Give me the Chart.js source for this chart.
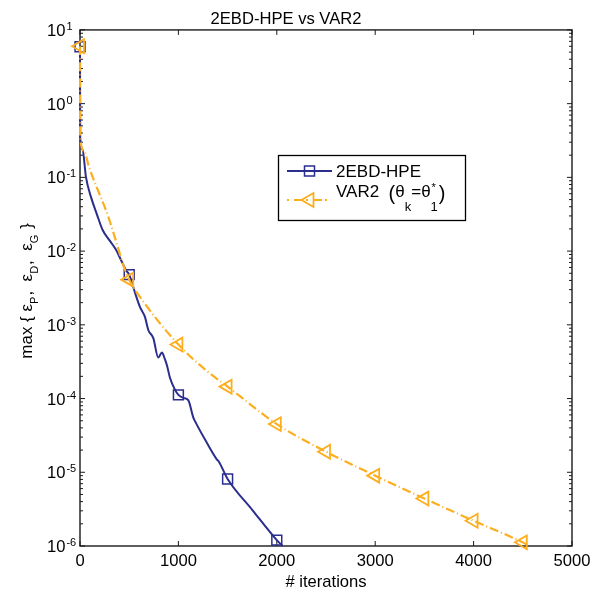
<!DOCTYPE html>
<html><head><meta charset="utf-8">
<script src="https://cdn.jsdelivr.net/npm/chart.js@4/dist/chart.umd.min.js"></script>
<style>html,body{margin:0;padding:0;background:#fff}#wrap{width:600px;height:598px}</style>
</head><body><div id="wrap"><canvas id="c" width="600" height="598"></canvas></div>
<script>
const plotTitle = '2EBD-HPE vs VAR2';
const xAxisTitle = '# iterations';
const seriesNames = ['2EBD-HPE', 'VAR2'];
const hpeIters = [0,2,25,61,112,170,230,300,366,420,467,500,560,610,660,694,745,795,833,860,884,915,965,1000,1050,1100,1150,1170,1290,1390,1410,1500,1750,2000,2060];
const hpeValues = [5.9,0.35,0.24,0.10,0.054,0.032,0.0193,0.014,0.0104,0.0074,0.0055,0.0048,0.0027,0.00174,0.00128,0.00085,0.00066,0.00036,0.00042,0.00035,0.00028,0.00019,0.000132,0.000112,0.000102,0.000095,0.000056,0.000049,0.000025,0.000015,0.000014,0.0000081,0.0000031,0.0000012,0.000001];
const var2Iters = [0,2,40,91,180,281,383,434,500,640,1000,1300,1500,2000,2500,3000,3500,4000,4500,4570];
const var2Values = [6.0,0.35,0.23,0.138,0.068,0.031,0.0115,0.0068,0.0041,0.0021,0.00054,0.00023,0.000145,0.000045,0.000019,0.000009,0.0000044,0.0000022,0.00000112,0.000001];
const markerIters = [0,500,1000,1500,2000,2500,3000,3500,4000,4500];
const xTickValues = [0,1000,2000,3000,4000,5000];
const yExponents = [-6,-5,-4,-3,-2,-1,0,1];

const FONT = 'Liberation Sans, Arial, Helvetica, sans-serif';
const BLUE = '#2B2E8C';
const YELLOW = '#FDAE1F';
const AXIS = '#1a1a1a';
const DASH = [9,3,1,3];

function toPoints(xs, ys){ return xs.map((x,i)=>({x:x, y:ys[i]})); }
const markerRadius = r => ctx => (ctx.raw && markerIters.includes(ctx.raw.x)) ? r : 0;

const axesPlugin = {
  id:'axesBox',
  beforeDatasetsDraw(chart){
    const {ctx, chartArea:a, scales} = chart;
    const xs = scales.x, ys = scales.y;
    ctx.save();
    ctx.strokeStyle = AXIS; ctx.lineWidth = 1.4;
    ctx.strokeRect(a.left, a.top, a.right-a.left, a.bottom-a.top);
    ctx.beginPath();
    xTickValues.forEach(v=>{
      const px = xs.getPixelForValue(v);
      ctx.moveTo(px, a.bottom); ctx.lineTo(px, a.bottom-5);
      ctx.moveTo(px, a.top); ctx.lineTo(px, a.top+5);
    });
    yExponents.forEach(e=>{
      for (let m=1; m<=9; m++){
        const v = m*Math.pow(10,e);
        if (v > ys.max*1.0001) break;
        const py = ys.getPixelForValue(v);
        const len = m===1 ? 5 : 3;
        ctx.moveTo(a.left, py); ctx.lineTo(a.left+len, py);
        ctx.moveTo(a.right, py); ctx.lineTo(a.right-len, py);
      }
    });
    ctx.lineWidth = 1;
    ctx.stroke();
    ctx.fillStyle = '#000';
    ctx.textBaseline = 'alphabetic';
    yExponents.forEach(e=>{
      const py = ys.getPixelForValue(Math.pow(10,e));
      ctx.font = '16.6px ' + FONT;
      ctx.textAlign = 'left';
      const x0 = 47;
      ctx.fillText('10', x0, py+6);
      const w = ctx.measureText('10').width;
      ctx.font = '11px ' + FONT;
      ctx.fillText(String(e), x0+w+1, py);
    });
    ctx.restore();
  },
  afterDraw(chart){
    const {ctx, chartArea:a} = chart;
    ctx.save();
    const cy = (a.top+a.bottom)/2;
    ctx.translate(32, cy+3);
    ctx.rotate(-Math.PI/2);
    const main = '17px ' + FONT, sub = '11px ' + FONT;
    const parts = [['max { ε',0],['P',1],[',  ε',0],['D',1],[',  ε',0],['G',1],[' }',0]];
    let total = 0;
    parts.forEach(p=>{ ctx.font = p[1]?sub:main; total += ctx.measureText(p[0]).width + (p[1]?1:0); });
    let x = -total/2;
    ctx.fillStyle = '#000'; ctx.textBaseline='alphabetic'; ctx.textAlign='left';
    parts.forEach(p=>{
      ctx.font = p[1]?sub:main;
      ctx.fillText(p[0], x, p[1]?6:0);
      x += ctx.measureText(p[0]).width + (p[1]?1:0);
    });
    ctx.restore();

    ctx.save();
    const L = 278.5, T = 155.5, W = 187, H = 65;
    ctx.fillStyle = '#fff'; ctx.fillRect(L, T, W, H);
    ctx.strokeStyle = '#000'; ctx.lineWidth = 1.3; ctx.strokeRect(L, T, W, H);
    const y1 = 171, y2 = 200, lx0 = 287, lx1 = 332, mx = 309.5;
    ctx.strokeStyle = BLUE; ctx.lineWidth = 2;
    ctx.beginPath(); ctx.moveTo(lx0,y1); ctx.lineTo(lx1,y1); ctx.stroke();
    ctx.lineWidth = 1.5; ctx.strokeRect(mx-5, y1-5, 10, 10);
    ctx.strokeStyle = YELLOW; ctx.lineWidth = 2;
    ctx.setLineDash([2,5,9,3]);
    ctx.beginPath(); ctx.moveTo(lx0,y2); ctx.lineTo(lx1,y2); ctx.stroke();
    ctx.setLineDash([]);
    ctx.lineWidth = 1.8;
    const r = 8;
    ctx.beginPath();
    ctx.moveTo(mx - r, y2);
    ctx.lineTo(mx + r/2, y2 - r*Math.sqrt(3)/2);
    ctx.lineTo(mx + r/2, y2 + r*Math.sqrt(3)/2);
    ctx.closePath(); ctx.stroke();
    ctx.fillStyle = '#000'; ctx.textAlign='left'; ctx.textBaseline='alphabetic';
    ctx.font = '17px ' + FONT;
    ctx.fillText(seriesNames[0], 336, y1+6);
    let tx = 336; const base = 196.5;
    const put = (s, f, dy) => { ctx.font = f; ctx.fillText(s, tx, base+dy); tx += ctx.measureText(s).width; };
    put(seriesNames[1] + '  ', '17px '+FONT, 0);
    put('(', '20px '+FONT, 3);
    put('θ', '17px '+FONT, 0);
    put('k', '13px '+FONT, 14);
    put('=θ', '17px '+FONT, 0);
    ctx.font = '11px ' + FONT; ctx.fillText('*', tx+1, base-6);
    put('1', '13px '+FONT, 14);
    tx += 1;
    put(')', '20px '+FONT, 3);
    ctx.restore();
  }
};

new Chart(document.getElementById('c'), {
  type:'line',
  data:{ datasets:[
    { label: seriesNames[0], data: toPoints(hpeIters, hpeValues), borderColor: BLUE, borderWidth: 2,
      pointStyle:'rect', pointRadius: markerRadius(7), pointBorderWidth:1.5, pointBorderColor: BLUE,
      pointBackgroundColor:'rgba(0,0,0,0)', cubicInterpolationMode:'monotone', clip:false, order:2, fill:false },
    { label: seriesNames[1], data: toPoints(var2Iters, var2Values), borderColor: YELLOW, borderWidth: 2.2,
      borderDash: DASH, pointStyle:'triangle', pointRotation:-90, pointRadius: markerRadius(8),
      pointBorderWidth:1.8, pointBorderColor: YELLOW, pointBackgroundColor:'rgba(0,0,0,0)',
      cubicInterpolationMode:'monotone', clip:false, order:1, fill:false }
  ]},
  options:{
    responsive:false, animation:false, events:[],
    layout:{ padding:{ left:0, right:28, top:0, bottom:0 } },
    plugins:{
      legend:{ display:false }, tooltip:{ enabled:false },
      title:{ display:true, text: plotTitle, color:'#000', font:{ family:FONT, size:16.6, weight:'normal' }, padding:{ top:9, bottom:1 } }
    },
    scales:{
      x:{ type:'linear', min:0, max:5000,
        grid:{ display:false, drawTicks:false }, border:{ display:false },
        ticks:{ color:'#000', font:{ family:FONT, size:16.6 }, padding:5, maxRotation:0, autoSkip:false, callback:v=>String(v) },
        afterBuildTicks: s => { s.ticks = xTickValues.map(v=>({value:v})); },
        title:{ display:true, text: xAxisTitle, color:'#000', font:{ family:FONT, size:16.6 }, padding:{ top:0, bottom:6 } },
        afterFit: s => { s.height = 52; }
      },
      y:{ type:'logarithmic', min:1e-6, max:10,
        grid:{ display:false, drawTicks:false }, border:{ display:false },
        ticks:{ display:false },
        afterFit: s => { s.width = 80; }
      }
    }
  },
  plugins:[axesPlugin]
});
</script>
</body></html>
